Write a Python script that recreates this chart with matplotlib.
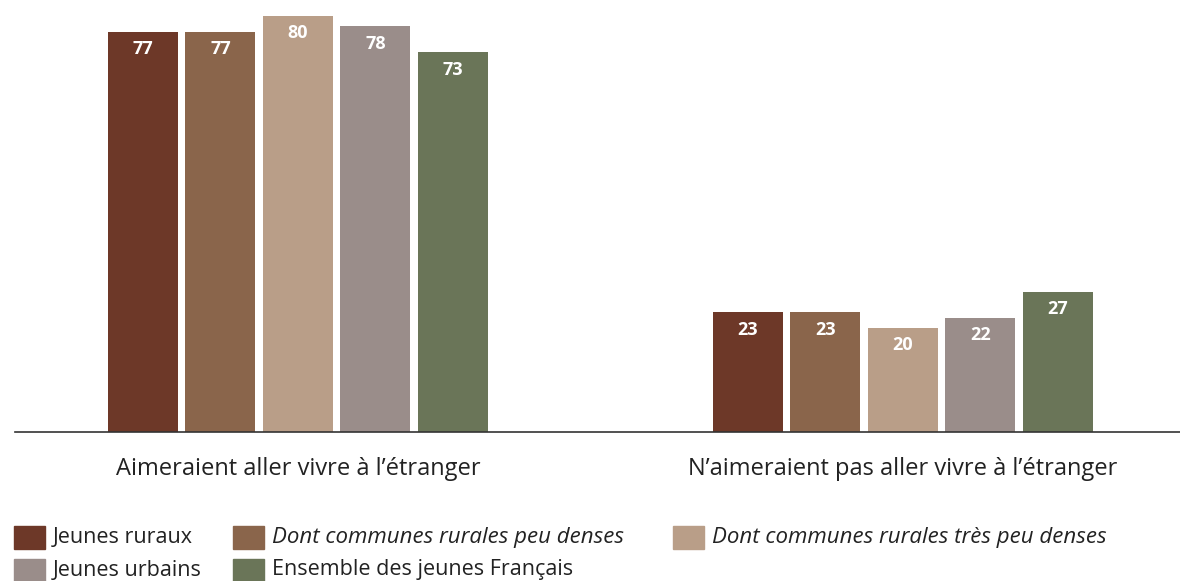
import numpy as np
import matplotlib.pyplot as plt
from matplotlib.patches import Rectangle

groups = ["Aimeraient aller vivre à l\u2019étranger", "N\u2019aimeraient pas aller vivre à l\u2019étranger"]
series = ["Jeunes ruraux", "Dont communes rurales peu denses", "Dont communes rurales très peu denses",
          "Jeunes urbains", "Ensemble des jeunes Français"]
values = [[77, 23], [77, 23], [80, 20], [78, 22], [73, 27]]
colors = ["#6d3828", "#8a654b", "#b99e88", "#9a8d8a", "#6a7558"]
italic = [False, True, True, False, False]

plt.rcParams['font.family'] = ['Open Sans', 'DejaVu Sans']

fig = plt.figure(figsize=(11.8, 5.81), dpi=100)
W, H = 1180, 581
ax = fig.add_axes([15 / W, 149 / H, 1 - 15 / W, 432 / H])

x = np.arange(len(groups))
width = 70 / 605
step = 77.5 / 605
for i, s in enumerate(series):
    pos = x + (i - 2) * step
    bars = ax.bar(pos, values[i], width=width, color=colors[i])
    for b, v in zip(bars, values[i]):
        ax.text(b.get_x() + b.get_width() / 2, v - 3.3, str(v), ha='center', va='center',
                color='white', fontsize=13, fontweight='bold')

ax.set_xlim((15 - 298) / 605, (1180 - 298) / 605)
ax.set_ylim(0, 432 / 5.2)
for sp in ['top', 'right', 'left']:
    ax.spines[sp].set_visible(False)
ax.spines['bottom'].set_color('#333333')
ax.spines['bottom'].set_linewidth(1.2)
ax.set_yticks([])
ax.set_xticks(x)
ax.set_xticklabels(groups, fontsize=17, color='#222222')
ax.tick_params(axis='x', length=0, pad=18)

# legend
legend_pos = [(14, 537.5), (233, 537.5), (673, 537.5), (14, 570), (233, 570)]
for i, s in enumerate(series):
    px, py = legend_pos[i]
    fig.patches.append(Rectangle((px / W, (H - py - 11.5) / H), 31 / W, 23 / H,
                                 transform=fig.transFigure, color=colors[i]))
    fig.text((px + 39) / W, (H - py) / H, s, va='center', ha='left',
             fontsize=16 if italic[i] else 15.5,
             color='#222222', style='italic' if italic[i] else 'normal')

fig.savefig('out.png', dpi=100)
